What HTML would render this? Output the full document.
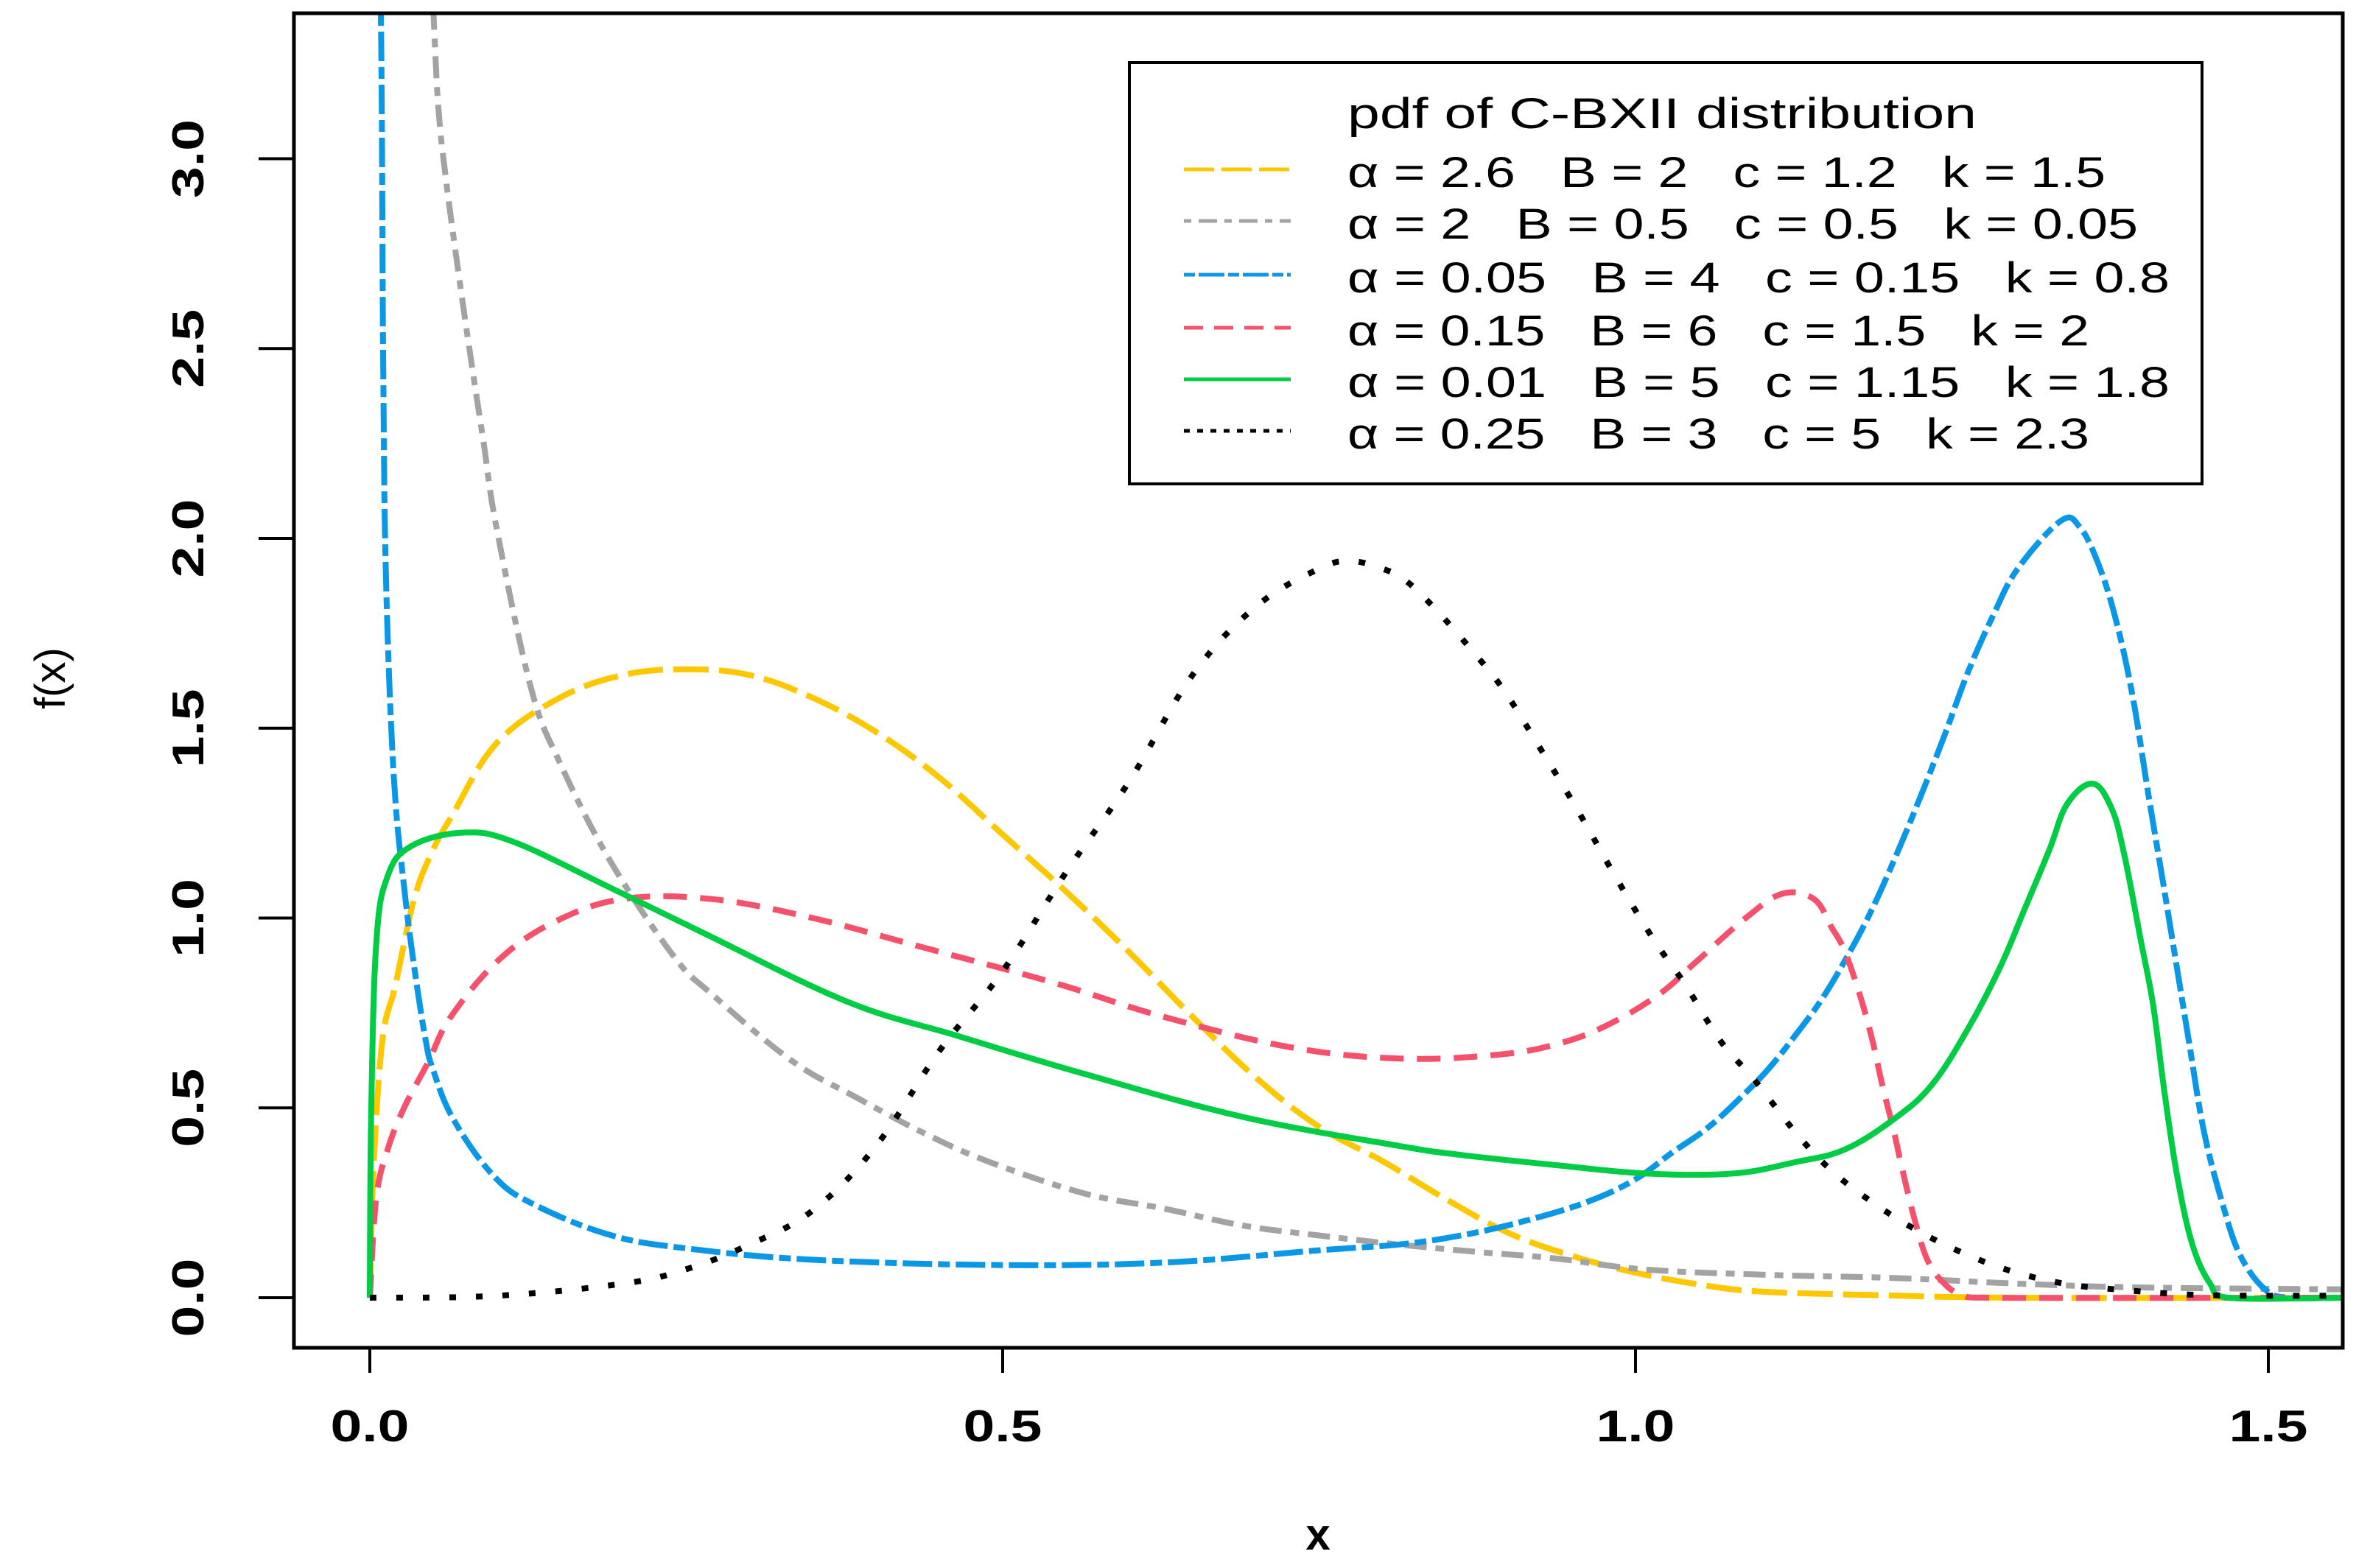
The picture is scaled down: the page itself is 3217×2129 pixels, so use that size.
<!DOCTYPE html>
<html><head><meta charset="utf-8"><style>
html,body{margin:0;padding:0;background:#fff;}
svg{display:block;}
text{font-family:"Liberation Sans",sans-serif;fill:#000;white-space:pre;}
</style></head>
<body>
<svg id="chart" width="3217" height="2129" viewBox="0 0 3217 2129" xmlns="http://www.w3.org/2000/svg">
<defs><clipPath id="plotclip"><rect x="401" y="20" width="2778" height="1808"/></clipPath></defs>
<rect x="0" y="0" width="3217" height="2129" fill="#fff"/>
<g id="axes"></g>
<g id="series" clip-path="url(#plotclip)"></g>
<rect x="399" y="18" width="2781" height="1812" fill="none" stroke="#000" stroke-width="5"/>
<text x="1789" y="2104" font-size="60" font-weight="bold" text-anchor="middle">x</text>
<text x="0" y="0" font-size="58" text-anchor="middle" transform="translate(88,921) rotate(-90)">f(x)</text>
<g id="legend">
<rect x="1533" y="85" width="1456" height="572" fill="#fff" stroke="#000" stroke-width="4"/>
<text x="1829" y="174" font-size="58" textLength="854" lengthAdjust="spacingAndGlyphs">pdf of C-BXII distribution</text>
</g>
</svg>
<script>
// ---- data ----
const xTicks = [0, 0.5, 1.0, 1.5];
const xTickLabels = ["0.0", "0.5", "1.0", "1.5"];
const yTicks = [0, 0.5, 1.0, 1.5, 2.0, 2.5, 3.0];
const yTickLabels = ["0.0", "0.5", "1.0", "1.5", "2.0", "2.5", "3.0"];

const seriesNames = ["yellow", "gray", "blue", "red", "green", "black"];
const legendLabels = [
  "α = 2.6   B = 2   c = 1.2   k = 1.5",
  "α = 2   B = 0.5   c = 0.5   k = 0.05",
  "α = 0.05   B = 4   c = 0.15   k = 0.8",
  "α = 0.15   B = 6   c = 1.5   k = 2",
  "α = 0.01   B = 5   c = 1.15   k = 1.8",
  "α = 0.25   B = 3   c = 5   k = 2.3"
];

const yellowX = [0,0.003,0.01,0.02,0.035,0.05,0.065,0.1,0.15,0.2,0.25,0.3,0.35,0.4,0.45,0.5,0.55,0.6,0.65,0.7,0.75,0.8,0.85,0.9,0.95,1.0,1.05,1.1,1.2,1.3,1.56];
const yellowY = [0,0.35,0.68,0.82,1.05,1.18,1.27,1.46,1.58,1.64,1.655,1.64,1.58,1.49,1.37,1.22,1.07,0.91,0.74,0.58,0.45,0.36,0.26,0.17,0.11,0.066,0.035,0.016,0.006,0,0];

const grayX = [0.045,0.05,0.054,0.06,0.07,0.08,0.09,0.1,0.127,0.15,0.19,0.24,0.27,0.333,0.383,0.44,0.49,0.564,0.627,0.69,0.75,0.813,0.877,0.935,1.009,1.107,1.204,1.302,1.4,1.56];
const grayY = [3.7,3.4,3.14,2.95,2.7,2.47,2.25,2.03,1.61,1.41,1.15,0.9,0.8,0.625,0.53,0.43,0.357,0.275,0.235,0.19,0.164,0.14,0.12,0.104,0.074,0.06,0.052,0.037,0.027,0.022];

const blueX = [0.006,0.009,0.0106,0.0128,0.019,0.0275,0.036,0.044,0.05,0.066,0.098,0.13,0.19,0.25,0.35,0.5,0.63,0.75,0.813,0.862,0.91,0.96,0.999,1.028,1.058,1.087,1.107,1.126,1.146,1.165,1.185,1.204,1.224,1.244,1.263,1.283,1.302,1.336,1.351,1.366,1.38,1.393,1.405,1.417,1.427,1.437,1.449,1.464,1.478,1.498,1.517,1.56];
const blueY = [3.8,3.3,2.45,1.89,1.37,1.07,0.85,0.68,0.6,0.47,0.32,0.245,0.165,0.13,0.1,0.086,0.093,0.125,0.14,0.164,0.2,0.25,0.31,0.38,0.45,0.54,0.61,0.69,0.78,0.885,1.01,1.15,1.31,1.48,1.65,1.8,1.92,2.046,2.03,1.93,1.78,1.58,1.33,1.09,0.885,0.68,0.44,0.245,0.11,0.02,0,0];

const redX = [0,0.005,0.014,0.027,0.046,0.064,0.102,0.146,0.2,0.27,0.35,0.44,0.54,0.627,0.727,0.813,0.891,0.94,0.979,1.019,1.048,1.087,1.116,1.141,1.155,1.165,1.177,1.187,1.195,1.204,1.211,1.221,1.231,1.244,1.258,1.278,1.56];
const redY = [0,0.26,0.39,0.5,0.62,0.74,0.89,0.99,1.05,1.05,1.0,0.92,0.83,0.74,0.66,0.63,0.64,0.67,0.72,0.8,0.885,1.0,1.064,1.05,0.975,0.915,0.8,0.68,0.56,0.44,0.335,0.2,0.097,0.037,0.007,0,0];

const greenX = [0,0.001,0.005,0.014,0.033,0.074,0.114,0.19,0.264,0.377,0.464,0.564,0.69,0.813,0.862,0.935,1.009,1.077,1.126,1.165,1.204,1.234,1.263,1.288,1.307,1.327,1.341,1.361,1.376,1.386,1.399,1.409,1.418,1.428,1.44,1.454,1.468,1.56];
const greenY = [0,0.47,0.93,1.11,1.19,1.225,1.2,1.08,0.96,0.78,0.69,0.59,0.476,0.4,0.376,0.35,0.327,0.327,0.357,0.39,0.47,0.56,0.71,0.87,1.02,1.18,1.3,1.354,1.29,1.17,0.945,0.77,0.54,0.32,0.14,0.037,0,0];

const blackX = [0,0.1,0.2,0.25,0.3,0.35,0.4,0.45,0.5,0.55,0.6,0.65,0.7,0.75,0.775,0.8,0.818,0.843,0.872,0.896,0.926,0.955,0.984,1.014,1.039,1.067,1.094,1.131,1.16,1.19,1.221,1.258,1.297,1.339,1.38,1.449,1.56];
const blackY = [0,0.005,0.037,0.075,0.14,0.23,0.40,0.65,0.86,1.12,1.36,1.64,1.82,1.92,1.94,1.92,1.89,1.81,1.70,1.6,1.44,1.28,1.11,0.945,0.826,0.677,0.573,0.417,0.32,0.245,0.18,0.119,0.07,0.037,0.022,0.007,0.005];

// ---- scales ----
const X0 = 502, XU = 1718, Y0 = 1762, YU = 515.5;
function sx(v){ return X0 + v * XU; }
function sy(v){ return Y0 - v * YU; }

const NS = "http://www.w3.org/2000/svg";
function mk(tag, attrs, parent){
  const e = document.createElementNS(NS, tag);
  for (const k in attrs) e.setAttribute(k, attrs[k]);
  parent.appendChild(e);
  return e;
}

const axes = document.getElementById('axes');
xTicks.forEach((t, i) => {
  const ln = mk('line', {x1: sx(t), x2: sx(t), y1: 1830, y2: 1864, stroke: '#000', 'stroke-width': 4}, axes);
  
  
  const tx = mk('text', {x: sx(t), y: 1957, 'font-size': 60, 'font-weight': 'bold', 'text-anchor': 'middle', textLength: 107, lengthAdjust: 'spacingAndGlyphs'}, axes);
  tx.textContent = xTickLabels[i];
  
  
});
yTicks.forEach((t, i) => {
  const ln = mk('line', {x1: 351, x2: 399, y1: sy(t), y2: sy(t), stroke: '#000', 'stroke-width': 4}, axes);
  
  
  const tx = mk('text', {x: 0, y: 0, 'font-size': 60, 'font-weight': 'bold', 'text-anchor': 'middle', textLength: 107, lengthAdjust: 'spacingAndGlyphs', transform: 'translate(276,' + sy(t) + ') rotate(-90)'}, axes);
  tx.textContent = yTickLabels[i];
  
  
});

const styles = {
  yellow: {color: '#FFC700', dash: '48 14', ldash: '41 10'},
  gray:   {color: '#A3A3A3', dash: '12 12 30 12', ldash: '10 10 25 10'},
  blue:   {color: '#0A98E6', dash: '16 8 40 8', ldash: '15 5 35 5'},
  red:    {color: '#F5506C', dash: '32 18', ldash: '26 15'},
  green:  {color: '#00CC44', dash: 'none', ldash: 'none'},
  black:  {color: '#000000', dash: '9 27', ldash: '8 10'}
};
const dataX = {yellow: yellowX, gray: grayX, blue: blueX, red: redX, green: greenX, black: blackX};
const dataY = {yellow: yellowY, gray: grayY, blue: blueY, red: redY, green: greenY, black: blackY};

function smoothPath(xs, ys){
  const p = xs.map((x, i) => [sx(x), sy(ys[i])]);
  let d = 'M' + p[0][0].toFixed(1) + ',' + p[0][1].toFixed(1);
  for (let i = 0; i < p.length - 1; i++){
    const p0 = p[Math.max(0, i-1)], p1 = p[i], p2 = p[i+1], p3 = p[Math.min(p.length-1, i+2)];
    const t = 0.18;
    let c1x = p1[0] + (p2[0]-p0[0])*t, c1y = p1[1] + (p2[1]-p0[1])*t;
    let c2x = p2[0] - (p3[0]-p1[0])*t, c2y = p2[1] - (p3[1]-p1[1])*t;
    c1x = Math.min(Math.max(c1x, p1[0]), p2[0]);
    c2x = Math.min(Math.max(c2x, p1[0]), p2[0]);
    const lo = Math.min(p1[1], p2[1]), hi = Math.max(p1[1], p2[1]);
    c1y = Math.min(Math.max(c1y, lo - 20), hi + 20);
    c2y = Math.min(Math.max(c2y, lo - 20), hi + 20);
    d += ' C' + c1x.toFixed(1) + ',' + c1y.toFixed(1) + ' ' + c2x.toFixed(1) + ',' + c2y.toFixed(1) + ' ' + p2[0].toFixed(1) + ',' + p2[1].toFixed(1);
  }
  return d;
}

const sg = document.getElementById('series');
seriesNames.forEach(n => {
  const st = styles[n];
  const path = mk('path', {d: smoothPath(dataX[n], dataY[n]), fill: 'none', stroke: st.color, 'stroke-width': 8, 'stroke-dasharray': st.dash, 'stroke-linejoin': 'round'}, sg);
  
  
});

const lg = document.getElementById('legend');
const rowBase = [254, 324, 397, 469, 539, 609];
const rowLen = [1029, 1073, 1116, 1007, 1116, 1007];
seriesNames.forEach((n, i) => {
  const st = styles[n];
  const ly = rowBase[i] - 24;
  const ln = mk('line', {x1: 1607, x2: 1752, y1: ly, y2: ly, stroke: st.color, 'stroke-width': 5, 'stroke-dasharray': st.ldash}, lg);
  
  
  const tx = mk('text', {x: 1829, y: rowBase[i], 'font-size': 58, textLength: rowLen[i], lengthAdjust: 'spacingAndGlyphs'}, lg);
  tx.textContent = legendLabels[i];
  
  
});
</script>
</body></html>
